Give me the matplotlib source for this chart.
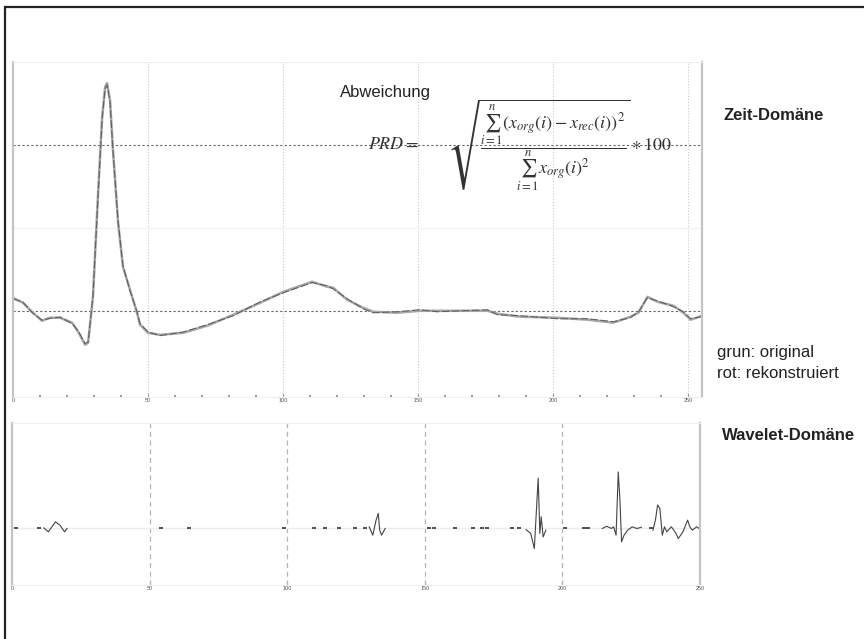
import numpy as np
import matplotlib.pyplot as plt
from matplotlib.patches import Rectangle

plt.rcParams['font.family'] = ['Liberation Sans', 'DejaVu Sans']
plt.rcParams['mathtext.fontset'] = 'stix'

# Zeit-Domaene: Abtastwert / Amplitude (original + rekonstruiert)
t = [0, 3.7, 7.0, 10.7, 13.7, 17.4, 21.9, 24.1, 26.7, 27.8,
     29.6, 31.5, 33.0, 34.1, 34.8, 35.9, 37.0, 38.9, 40.7, 43.3,
     45.9, 47.0, 50.0, 54.4, 63.0, 71.9, 81.5, 91.5, 100.0, 110.7,
     116.3, 118.5, 123.7, 129.6, 133.3, 142.2, 150.7, 157.0, 175.6, 179.3,
     187.8, 201.5, 212.6, 222.2, 228.5, 231.5, 234.8, 238.5, 244.5, 248.1,
     250.8, 255.0]
orig = [0.078, 0.048, -0.006, -0.060, -0.042, -0.042, -0.072, -0.127, -0.205, -0.193,
        0.084, 0.711, 1.169, 1.349, 1.373, 1.271, 0.970, 0.530, 0.265, 0.127,
        -0.012, -0.084, -0.133, -0.145, -0.133, -0.090, -0.024, 0.048, 0.114, 0.175,
        0.145, 0.139, 0.066, 0.018, -0.006, -0.012, 0.0, 0.0, 0.0, -0.018,
        -0.036, -0.042, -0.054, -0.072, -0.036, -0.012, 0.084, 0.054, 0.030, -0.012,
        -0.054, -0.030]
rekon = [0.072, 0.052, -0.010, -0.056, -0.046, -0.038, -0.078, -0.120, -0.198, -0.188,
         0.090, 0.700, 1.160, 1.340, 1.362, 1.262, 0.962, 0.538, 0.272, 0.120,
         -0.006, -0.078, -0.128, -0.150, -0.128, -0.084, -0.030, 0.054, 0.108, 0.170,
         0.150, 0.132, 0.072, 0.012, -0.012, -0.006, 0.006, -0.006, 0.006, -0.024,
         -0.030, -0.048, -0.048, -0.066, -0.042, -0.006, 0.078, 0.060, 0.024, -0.006,
         -0.048, -0.036]

# Wavelet-Domaene: Koeffizienten (nan trennt die Gruppen)
nan = np.nan
wav_i = [11.6, 13.2, 15.8, 17.4, 19.1, 20.0, nan,
         129.8, 131.1, 132.3, 133.1, 133.6, 134.3, 135.6, nan,
         186.8, 188.5, 189.8, 190.7, 191.2, 191.8, 192.3, 193.0, 194.0, nan,
         214.5, 216.1, 217.8, 218.6, 219.5, 220.3, 220.9, 221.5, 222.4, 223.7,
         225.4, 227.0, 228.7, nan,
         232.9, 233.8, 234.6, 235.4, 236.3, 237.1, 237.9, 239.6, 241.3, 242.1,
         243.8, 245.5, 246.3, 247.2, 248.8, 249.7]
wav_v = [0.0, -0.07, 0.11, 0.05, -0.07, -0.01, nan,
         0.02, -0.13, 0.14, 0.26, -0.04, -0.13, -0.01, nan,
         -0.03, -0.10, -0.37, 0.44, 0.89, -0.10, 0.20, -0.16, -0.04, nan,
         -0.01, 0.03, -0.01, 0.02, -0.13, 1.0, 0.50, -0.25, -0.13, -0.04,
         0.02, -0.01, 0.01, nan,
         -0.04, 0.14, 0.41, 0.35, -0.13, 0.02, -0.07, 0.02, -0.10, -0.19,
         -0.07, 0.14, 0.02, -0.04, 0.02, -0.01]
dots_i = [1.5, 9.9, 54.3, 64.4, 98.8, 109.7, 113.9, 118.9, 124.8, 128.1,
          151.6, 153.3, 160.8, 167.5, 170.9, 172.5, 181.8, 184.3, 201.1, 207.8,
          209.4, 232.1]

ticks = [0, 50, 100, 150, 200, 250]
tick_labels = ['0', '50', '100', '150', '200', '250']

W, H = 864, 639
fig = plt.figure(figsize=(W / 100, H / 100), dpi=100)

def box(l, top, r, b):
    return [l / W, 1 - b / H, (r - l) / W, (b - top) / H]

def style(ax):
    for s in ['left', 'right']:
        ax.spines[s].set_color('#c4c4c4')
        ax.spines[s].set_linewidth(1.6)
    for s in ['top', 'bottom']:
        ax.spines[s].set_color('#eeeeee')
    ax.set_yticks([])
    ax.set_xticks(ticks)
    ax.set_xticklabels(tick_labels, fontsize=4, color='#555555')
    ax.tick_params(axis='x', direction='in', length=3, width=0.8,
                   color='#888888', pad=1)

# oben: Zeit-Domaene
ax1 = fig.add_axes(box(13, 62, 702, 397))
for x in ticks[1:]:
    ax1.axvline(x, color='#c8c8c8', lw=0.8, ls=':')
ax1.axhline(0.5, color='#f2f2f2', lw=1.0)
for y in [0, 1]:
    ax1.axhline(y, color='#666666', lw=0.8, dashes=(2, 2))
ax1.plot(t, orig, color='#a8a8a8', lw=1.8)
ax1.plot(t, rekon, color='#606060', lw=0.8, dashes=(7, 2))
ax1.set_xlim(0, 255)
ax1.set_ylim(-0.52, 1.5)
style(ax1)
ax1.set_xticks(np.arange(0, 256, 10), minor=True)
ax1.tick_params(axis='x', which='minor', direction='in', length=1.5,
                width=1.2, color='#888888')

# unten: Wavelet-Domaene
ax2 = fig.add_axes(box(12, 423, 700, 585))
for x in ticks[1:-1]:
    ax2.axvline(x, color='#b4b4b4', lw=0.9, dashes=(4, 3))
ax2.axhline(0, color='#ececec', lw=1.0)
ax2.plot(wav_i, wav_v, color='#444444', lw=0.8)
ax2.plot(dots_i, np.zeros(len(dots_i)), ls='none', marker='_', ms=3,
         mew=1.3, color='#444444')
ax2.set_xlim(0, 250)
ax2.set_ylim(-1.02, 1.875)
style(ax2)

# Texte
def px_text(x, y, s, **kw):
    fig.text(x / W, 1 - y / H, s, va='center', **kw)

px_text(340, 92, 'Abweichung', fontsize=12, color='#222222')
px_text(368, 145, r'$PRD=$', fontsize=13, color='#333333')
px_text(447, 145,
        r'$\sqrt{\dfrac{\sum_{i=1}^{n}(x_{org}(i)-x_{rec}(i))^2}'
        r'{\sum_{i=1}^{n}x_{org}(i)^2}}\ast 100$',
        fontsize=13, color='#333333')
px_text(723, 115, 'Zeit-Domäne', fontsize=12, fontweight='bold', color='#222222')
px_text(717, 352, 'grun: original', fontsize=12, color='#222222')
px_text(717, 373, 'rot: rekonstruiert', fontsize=12, color='#222222')
px_text(722, 435, 'Wavelet-Domäne', fontsize=12, fontweight='bold', color='#222222')

# Rahmen
fig.add_artist(Rectangle((4.5 / W, -0.1), 1.2, 1.1 - 6.5 / H,
                         transform=fig.transFigure, fill=False,
                         ec='#222222', lw=1.6))

fig.savefig('out.png', dpi=100)
